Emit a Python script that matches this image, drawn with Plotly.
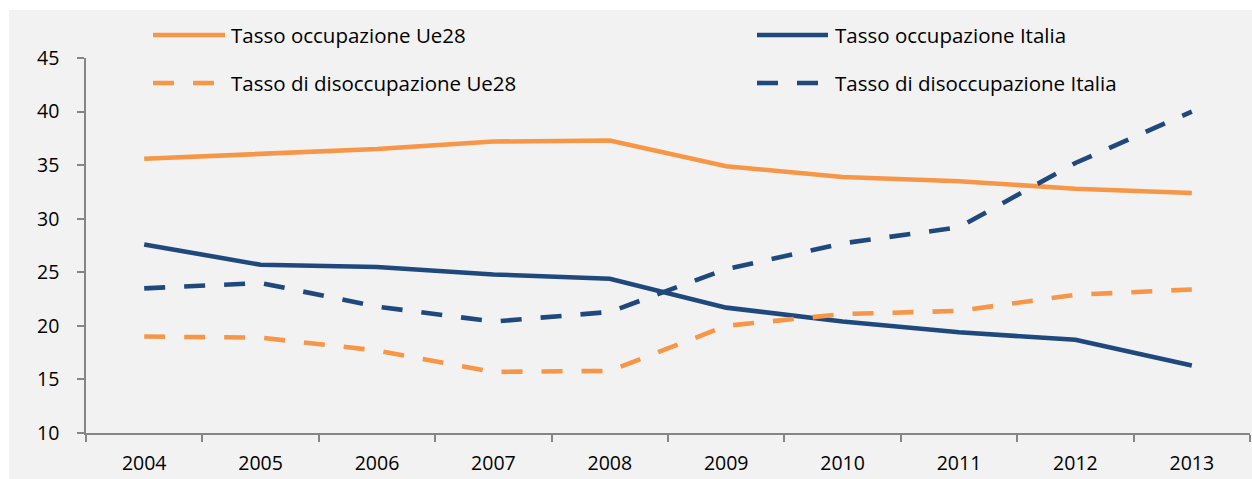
import plotly.graph_objects as go

# Annual rates, 2004-2013
years = ["2004", "2005", "2006", "2007", "2008", "2009", "2010", "2011", "2012", "2013"]
occ_ue28 = [35.6, 36.0, 36.5, 37.2, 37.3, 34.9, 33.9, 33.5, 32.8, 32.4]
occ_italia = [27.6, 25.7, 25.5, 24.8, 24.4, 21.7, 20.4, 19.4, 18.7, 16.3]
disocc_ue28 = [19.0, 18.9, 17.7, 15.7, 15.8, 20.0, 21.1, 21.4, 22.9, 23.4]
disocc_italia = [23.5, 24.0, 21.8, 20.4, 21.3, 25.3, 27.7, 29.2, 35.2, 40.0]

names = [
    "Tasso occupazione Ue28",
    "Tasso occupazione Italia",
    "Tasso di disoccupazione Ue28",
    "Tasso di disoccupazione Italia",
]

ORANGE = "#F79646"
NAVY = "#1F497D"
DASH = "21px,19px"
LW = 4.6
FONT = "Open Sans"
TICK_SIZE = 19.5
LEGEND_SIZE = 20.5

series = [
    (names[0], occ_ue28, ORANGE, "solid"),
    (names[1], occ_italia, NAVY, "solid"),
    (names[2], disocc_ue28, ORANGE, DASH),
    (names[3], disocc_italia, NAVY, DASH),
]

fig = go.Figure()
for name, vals, color, dash in series:
    fig.add_trace(go.Scatter(
        x=years, y=vals, name=name, mode="lines",
        line=dict(color=color, width=LW, dash=dash),
        showlegend=False,
    ))

W, H = 1252, 479
L, R, T, B = 86, 2, 58, 46
pw, ph = W - L - R, H - T - B


def px_x(px):
    return (px - L) / pw


def px_y(py):
    return (H - B - py) / ph


shapes = [
    # light gray chart background
    dict(type="rect", xref="paper", yref="paper", layer="below",
         x0=px_x(9), x1=px_x(1260), y0=px_y(490), y1=px_y(10),
         fillcolor="#F2F2F2", line=dict(width=0)),
]
annotations = []

# two-column legend drawn by hand
legend_pos = [
    (153, 225, 229, 35),
    (757, 828, 833, 35),
    (153, 225, 229, 83),
    (757, 828, 833, 83),
]
for (name, vals, color, dash), (lx0, lx1, tx, ly) in zip(series, legend_pos):
    shapes.append(dict(type="line", xref="paper", yref="paper",
                       x0=px_x(lx0), x1=px_x(lx1), y0=px_y(ly), y1=px_y(ly),
                       line=dict(color=color, width=LW, dash=dash)))
    annotations.append(dict(xref="paper", yref="paper", x=px_x(tx), y=px_y(ly),
                            xanchor="left", yanchor="middle", showarrow=False,
                            text=name, font=dict(family=FONT, size=LEGEND_SIZE, color="#000000")))

fig.update_layout(
    width=W, height=H,
    margin=dict(l=L, r=R, t=T, b=B, pad=0),
    paper_bgcolor="#FFFFFF",
    plot_bgcolor="rgba(0,0,0,0)",
    shapes=shapes,
    annotations=annotations,
    font=dict(family=FONT, size=TICK_SIZE, color="#000000"),
)

fig.update_xaxes(
    type="category", range=[-0.5, 9.5],
    showgrid=False, zeroline=False,
    showline=True, linecolor="#868686", linewidth=1.5,
    ticks="outside", tickson="boundaries", ticklen=7, tickcolor="#868686", tickwidth=1.5,
    ticklabelstandoff=12,
    tickfont=dict(family=FONT, size=TICK_SIZE, color="#000000"),
)
fig.update_yaxes(
    range=[10, 45], dtick=5, tick0=10,
    showgrid=False, zeroline=False,
    showline=True, linecolor="#868686", linewidth=1.5,
    ticks="outside", ticklen=7, tickcolor="#868686", tickwidth=1.5,
    ticklabelstandoff=14,
    tickfont=dict(family=FONT, size=TICK_SIZE, color="#000000"),
)

fig.write_html("out.html")
